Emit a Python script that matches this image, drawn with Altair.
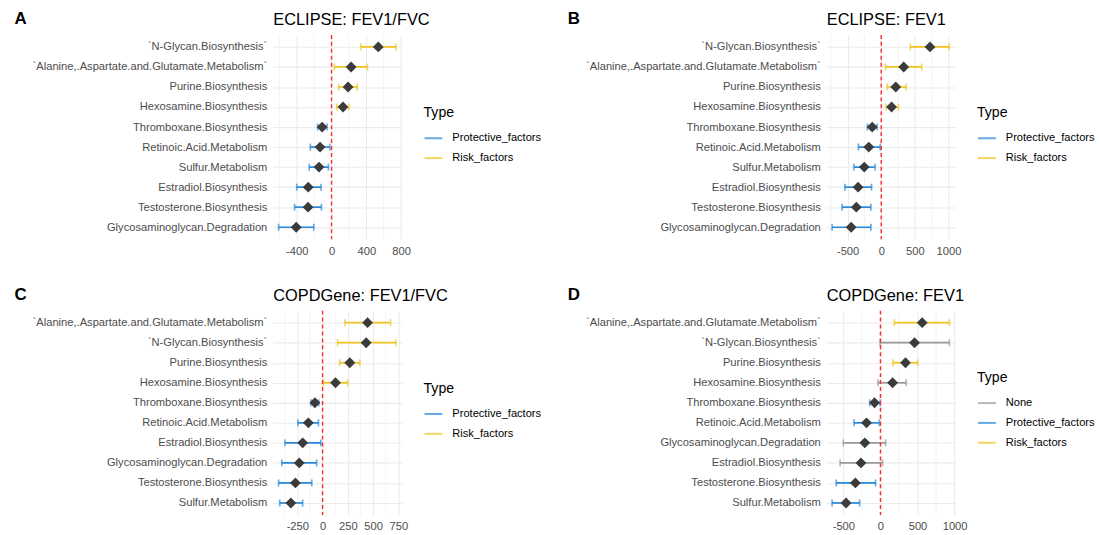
import altair as alt
import pandas as pd

FONT = "Liberation Sans"

# ---------------- data ----------------
A_path = ["`N-Glycan.Biosynthesis`", "`Alanine,.Aspartate.and.Glutamate.Metabolism`",
          "Purine.Biosynthesis", "Hexosamine.Biosynthesis", "Thromboxane.Biosynthesis",
          "Retinoic.Acid.Metabolism", "Sulfur.Metabolism", "Estradiol.Biosynthesis",
          "Testosterone.Biosynthesis", "Glycosaminoglycan.Degradation"]
A_est = [537, 225, 190, 132, -108, -132, -144, -268, -270, -406]
A_lo = [335, 32, 82, 60, -160, -244, -256, -400, -425, -608]
A_hi = [739, 412, 294, 200, -52, -20, -36, -120, -116, -204]
A_type = ["Risk_factors", "Risk_factors", "Risk_factors", "Risk_factors",
          "Protective_factors", "Protective_factors", "Protective_factors",
          "Protective_factors", "Protective_factors", "Protective_factors"]
A_major = [-400, 0, 400, 800]
A_minor = [-600, -200, 200, 600]

B_path = A_path
B_est = [725, 334, 216, 154, -134, -185, -252, -344, -370, -447]
B_lo = [432, 62, 87, 72, -206, -339, -406, -540, -581, -730]
B_hi = [1012, 601, 370, 257, -62, -15, -92, -144, -154, -154]
B_type = A_type
B_major = [-500, 0, 500, 1000]
B_minor = [-750, -250, 250, 750]

C_path = ["`Alanine,.Aspartate.and.Glutamate.Metabolism`", "`N-Glycan.Biosynthesis`",
          "Purine.Biosynthesis", "Hexosamine.Biosynthesis", "Thromboxane.Biosynthesis",
          "Retinoic.Acid.Metabolism", "Estradiol.Biosynthesis",
          "Glycosaminoglycan.Degradation", "Testosterone.Biosynthesis", "Sulfur.Metabolism"]
C_est = [445, 431, 269, 128, -76, -141, -197, -231, -269, -314]
C_lo = [221, 148, 169, 7, -114, -245, -373, -404, -435, -424]
C_hi = [673, 725, 369, 248, -38, -41, -17, -59, -107, -197]
C_type = A_type
C_major = [-250, 0, 250, 500, 750]
C_minor = [-375, -125, 125, 375, 625]

D_path = ["`Alanine,.Aspartate.and.Glutamate.Metabolism`", "`N-Glycan.Biosynthesis`",
          "Purine.Biosynthesis", "Hexosamine.Biosynthesis", "Thromboxane.Biosynthesis",
          "Retinoic.Acid.Metabolism", "Glycosaminoglycan.Degradation",
          "Estradiol.Biosynthesis", "Testosterone.Biosynthesis", "Sulfur.Metabolism"]
D_est = [563, 460, 338, 164, -80, -188, -211, -263, -338, -464]
D_lo = [188, -4, 169, -33, -145, -356, -502, -544, -596, -652]
D_hi = [929, 929, 502, 347, -5, -14, 70, 28, -66, -281]
D_type = ["Risk_factors", "None", "Risk_factors", "None", "Protective_factors",
          "Protective_factors", "None", "None", "Protective_factors", "Protective_factors"]
D_major = [-500, 0, 500, 1000]
D_minor = [-250, 250, 750]

ZERO_LINE = [0]

TYPES2 = ["Protective_factors", "Risk_factors"]
COLORS2 = ["#2787D8", "#F2C41E"]
TYPES3 = ["None", "Protective_factors", "Risk_factors"]
COLORS3 = ["#999999", "#2787D8", "#F2C41E"]

W, H = 130, 206


def panel(letter, title, paths, est, lo, hi, typ, major, minor, types, colors, legend_y):
    df = pd.DataFrame({"Pathway": paths, "Estimate": est, "Lower": lo,
                       "Upper": hi, "Type": typ})
    span = max(hi) - min(lo)
    xdom = [min(lo) - 0.05 * span, max(hi) + 0.05 * span]
    xscale = alt.Scale(domain=xdom, nice=False, zero=False)
    xaxis = alt.Axis(
        title=title, titleX=0, titleY=-(H + 10), titleAlign="left",
        titleAnchor="start", titleBaseline="alphabetic", titleFont=FONT,
        titleFontSize=16.5, titleFontWeight="normal", titleColor="black",
        values=major, tickCount=20, ticks=False, domain=False, format="d",
        labelExpr="'' + datum.value",
        labelOverlap=False, labelFlush=False,
        labelFont=FONT, labelFontSize=11.25, labelColor="#4D4D4D", labelPadding=6,
        grid=True, gridColor="#EBEBEB", gridWidth=1.1,
    )
    yenc = alt.Y(
        "Pathway:N", sort=paths,
        scale=alt.Scale(type="point", padding=0.6),
        axis=alt.Axis(
            title=letter, titleAngle=0, titleX=-261, titleY=-16, titleAlign="left",
            titleBaseline="middle", titleFont=FONT, titleFontSize=17,
            titleFontWeight="bold", titleColor="black",
            labelFont=FONT, labelFontSize=11.25, labelColor="#4D4D4D",
            labelPadding=6, labelLimit=400, ticks=False, domain=False,
            grid=True, gridColor="#EBEBEB", gridWidth=1.1,
        ),
    )
    color = alt.Color(
        "Type:N",
        scale=alt.Scale(domain=types, range=colors),
        legend=alt.Legend(
            title="Type", orient="none", legendX=W + 22, legendY=legend_y,
            symbolType="stroke", symbolSize=324, symbolStrokeWidth=2,
            titleFont=FONT, titleFontSize=14.2, titleFontWeight="normal",
            titleColor="black", titlePadding=8, labelFont=FONT, labelFontSize=11.2,
            labelColor="black", labelOffset=9, padding=0, rowPadding=4,
        ),
    )
    base = alt.Chart(df)
    minor_grid = alt.Chart(pd.DataFrame({"minor": minor})).mark_rule(
        color="#EBEBEB", strokeWidth=0.6).encode(x=alt.X("minor:Q", scale=xscale))
    bars = base.mark_rule(strokeWidth=1.7).encode(
        x=alt.X("Lower:Q", scale=xscale, axis=xaxis), x2="Upper:Q", y=yenc, color=color)
    cap_lo = base.mark_tick(thickness=1.7, size=7).encode(
        x=alt.X("Lower:Q", scale=xscale), y=yenc, color=color)
    cap_hi = base.mark_tick(thickness=1.7, size=7).encode(
        x=alt.X("Upper:Q", scale=xscale), y=yenc, color=color)
    vline = alt.Chart(pd.DataFrame({"zero": ZERO_LINE})).mark_rule(
        color="#FF2B2B", strokeDash=[4, 3], strokeWidth=1.4).encode(
        x=alt.X("zero:Q", scale=xscale))
    pts = base.mark_point(shape="diamond", filled=True, size=120, color="#3B3B3B",
                          opacity=1).encode(
        x=alt.X("Estimate:Q", scale=xscale), y=yenc)
    return alt.layer(minor_grid, bars, cap_lo, cap_hi, vline, pts).properties(
        width=W, height=H)


pA = panel("A", "ECLIPSE: FEV1/FVC", A_path, A_est, A_lo, A_hi, A_type, A_major, A_minor,
           TYPES2, COLORS2, 72)
pB = panel("B", "ECLIPSE: FEV1", B_path, B_est, B_lo, B_hi, B_type, B_major, B_minor,
           TYPES2, COLORS2, 72)
pC = panel("C", "COPDGene: FEV1/FVC", C_path, C_est, C_lo, C_hi, C_type, C_major, C_minor,
           TYPES2, COLORS2, 72)
pD = panel("D", "COPDGene: FEV1", D_path, D_est, D_lo, D_hi, D_type, D_major, D_minor,
           TYPES3, COLORS3, 61)

row1 = alt.hconcat(pA, pB, spacing=26).resolve_scale(color="independent", x="independent", y="independent")
row2 = alt.hconcat(pC, pD, spacing=26).resolve_scale(color="independent", x="independent", y="independent")

chart = alt.vconcat(row1, row2, spacing=29).resolve_scale(
    color="independent", x="independent", y="independent"
).properties(
    padding={"left": 14, "top": 8, "right": 5, "bottom": 2},
    background="white",
).configure_view(stroke=None)

chart.save("out.html", embed_options={"renderer": "svg", "actions": False})
